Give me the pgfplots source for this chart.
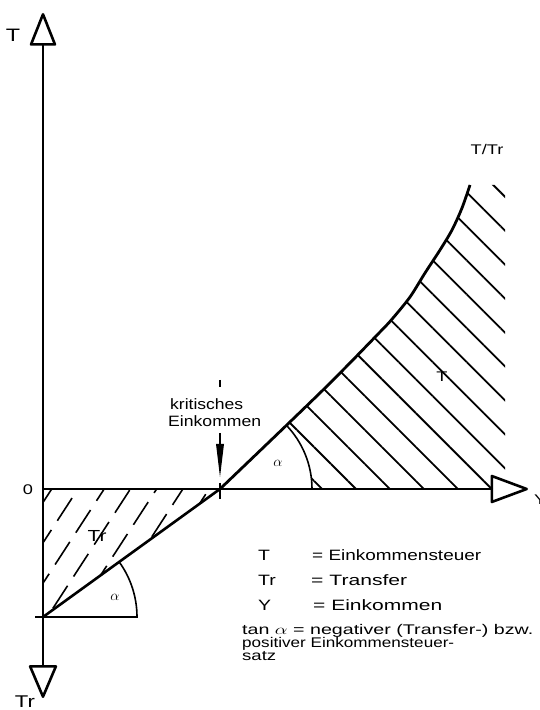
\documentclass[border=0pt]{standalone}
\usepackage{pgfplots}
\pgfplotsset{compat=1.18}
\usepackage{graphicx}
\usepackage{fontspec}
\usetikzlibrary{arrows.meta,patterns.meta}
\setmainfont{Liberation Sans}
% Schrift der Vorlage laeuft breit: horizontal gestreckt
\newcommand{\w}[2][14]{\scalebox{1.3}[1]{\fontsize{#1}{#1}\selectfont #2}}
% Zeile auf gemessene Breite bringen, Hoehe bleibt
\newcommand{\wl}[3][15]{\resizebox{#2}{\height}{\fontsize{#1}{#1}\selectfont #3}}

% dashed hatch for the transfer triangle
\pgfdeclarepattern{
  name=trhatch,
  type=uncolored,
  bottom left={\pgfpoint{-1pt}{-1pt}},
  top right={\pgfpoint{39pt}{23pt}},
  tile size={\pgfpoint{38pt}{22pt}},
  tile transformation={\pgftransformrotate{57}},
  code={
    \pgfsetlinewidth{1.6pt}
    \pgfpathmoveto{\pgfpoint{0pt}{11pt}}
    \pgfpathlineto{\pgfpoint{27pt}{11pt}}
    \pgfusepath{stroke}
  }
}

\begin{document}
\begin{tikzpicture}
\begin{axis}[name=ax, x=1pt, y=1pt,
  xmin=-43, xmax=496, ymin=-221, ymax=489,
  hide axis, clip=false]

% schraffur
\addplot[draw=none, pattern={Lines[angle=-45,distance=24pt,line width=1.8pt]}]
  coordinates {(177,0) (280,99) (337,157) (350,171) (367,192) (382,216) (397,239)
               (409,259) (419,281) (427,304) (462,304) (462,0)} -- cycle;
\addplot[draw=none, pattern=trhatch] coordinates {(0,0) (177,0) (0,-128)} -- cycle;
\fill[white] (axis cs:177,0) -- (axis cs:269,0) arc[start angle=0,end angle=44,radius=92pt] -- cycle;

% achsen
\draw[line width=2.6pt, line join=round,
  {Triangle[open,length=35pt,width=29pt,round]}-{Triangle[open,length=35pt,width=27pt,round]}]
  (axis cs:0,-209) -- (axis cs:0,476);
\draw[line width=2.6pt, -{Triangle[open,length=40pt,width=29pt,round]}]
  (axis cs:0,0) -- (axis cs:485,0);

% T/Tr-Kurve
\addplot[line width=2.6pt] coordinates {(0,-128) (177,0)};
\addplot[line width=2.8pt, smooth, tension=0.5] coordinates {(177,0) (280,99) (337,157) (350,171)
  (367,192) (382,216) (397,239) (409,259) (419,281) (427,304)};

% winkel
\draw[line width=1.6pt] (axis cs:269,0) arc[start angle=0,end angle=44,radius=92pt];
\draw[line width=1.6pt] (axis cs:-8,-128) -- (axis cs:94,-128) arc[start angle=0,end angle=36,radius=94pt];

% kritisches Einkommen
\draw[line width=2pt] (axis cs:177,6) -- (axis cs:177,-10);
\draw[line width=2pt] (axis cs:177,109) -- (axis cs:177,102);
\draw[line width=1.6pt] (axis cs:177,56) -- (axis cs:177,42);
\fill (axis cs:173,45) -- (axis cs:181,45) -- (axis cs:177,12) -- cycle;

\begin{scope}[every node/.append style={inner sep=0pt}]
\node[anchor=base west] at (axis cs:127,79) {\wl{73pt}{kritisches}};
\node[anchor=base west] at (axis cs:125,62) {\wl{93pt}{Einkommen}};

% beschriftung
\node[anchor=base] at (axis cs:-30,447) {\w[18]{T}};
\node[anchor=base] at (axis cs:-18,-219) {\w[17]{Tr}};
\node[anchor=base] at (axis cs:-15,-6) {\w{0}};
\node[anchor=base west] at (axis cs:491,-16) {\w{Y}};
\node[anchor=base] at (axis cs:444,334) {\w{T/Tr}};
\node[anchor=base] at (axis cs:399,107) {\w{T}};
\node[anchor=base] at (axis cs:54,-53) {\w[16]{Tr}};
\node at (axis cs:72,-108) {\fontsize{15}{15}\selectfont$\alpha$};
\node at (axis cs:235,26) {\fontsize{15}{15}\selectfont$\alpha$};

% legende
\node[anchor=base west] at (axis cs:215,-72) {\w[15]{T}};
\node[anchor=base west] at (axis cs:269,-72) {\wl{169pt}{= Einkommensteuer}};
\node[anchor=base west] at (axis cs:215,-97) {\w[15]{Tr}};
\node[anchor=base west] at (axis cs:268,-97) {\wl{96pt}{= Transfer}};
\node[anchor=base west] at (axis cs:215,-122) {\w[15]{Y}};
\node[anchor=base west] at (axis cs:270,-122) {\wl{129pt}{= Einkommen}};
\node[anchor=base west] at (axis cs:199,-145.5) {\wl[14]{291pt}{tan $\alpha$ = negativer (Transfer-) bzw.}};
\node[anchor=base west] at (axis cs:199,-159) {\wl[14]{212pt}{positiver Einkommensteuer-}};
\node[anchor=base west] at (axis cs:199,-172) {\wl[14]{34pt}{satz}};
\end{scope}
\end{axis}
\pgfresetboundingbox
\useasboundingbox (ax.south west) rectangle (ax.north east);
\end{tikzpicture}
\end{document}
